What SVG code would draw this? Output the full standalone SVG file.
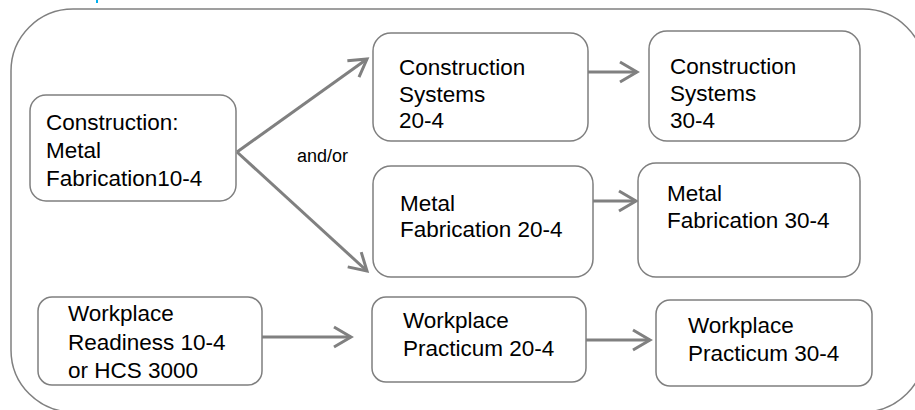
<svg xmlns="http://www.w3.org/2000/svg" width="915" height="410" viewBox="0 0 915 410">
  <defs>
    <style>
      .outer { fill: none; stroke: #808080; stroke-width: 1.5; }
      .node rect { fill: #ffffff; stroke: #7f7f7f; stroke-width: 1.5; }
      .node text { font-family: "Liberation Sans", Arial, sans-serif; font-size: 22.5px; fill: #000000; }
      .conn { fill: none; stroke: #808080; stroke-width: 3; }
      .lbl { font-family: "Liberation Sans", Arial, sans-serif; font-size: 18px; fill: #000000; }
    </style>
    <marker id="ah" viewBox="-20 -13 23 26" refX="0" refY="0" markerWidth="23" markerHeight="26" markerUnits="userSpaceOnUse" orient="auto">
      <path d="M-17,-10 L0,0 L-17,10" fill="none" stroke="#808080" stroke-width="3"/>
    </marker>
  </defs>

  <rect x="0" y="0" width="915" height="410" fill="#ffffff"/>
  <line x1="97" y1="0" x2="97" y2="3" stroke="#00B0F0" stroke-width="2"/>
  <rect class="outer" x="11" y="9" width="914" height="403" rx="62" ry="62"/>

  <g id="connectors">
    <line class="conn" x1="237" y1="152" x2="367" y2="59" marker-end="url(#ah)"/>
    <line class="conn" x1="237" y1="152" x2="367" y2="271" marker-end="url(#ah)"/>
    <line class="conn" x1="588" y1="72" x2="637" y2="72" marker-end="url(#ah)"/>
    <line class="conn" x1="593" y1="201" x2="636" y2="201" marker-end="url(#ah)"/>
    <line class="conn" x1="262" y1="337" x2="351" y2="337" marker-end="url(#ah)"/>
    <line class="conn" x1="586" y1="340" x2="650" y2="340" marker-end="url(#ah)"/>
    <text class="lbl" x="297" y="162">and/or</text>
  </g>

  <g id="node-cmf10" class="node">
    <rect x="30" y="95" width="206" height="106" rx="16" ry="16"/>
    <text x="46" y="130">Construction:</text>
    <text x="46" y="158">Metal</text>
    <text x="46" y="186">Fabrication10-4</text>
  </g>

  <g id="node-cs20" class="node">
    <rect x="373" y="33" width="215" height="108" rx="18" ry="18"/>
    <text x="399" y="75">Construction</text>
    <text x="399" y="102">Systems</text>
    <text x="399" y="128">20-4</text>
  </g>

  <g id="node-cs30" class="node">
    <rect x="649" y="31" width="211" height="110" rx="18" ry="18"/>
    <text x="670" y="74">Construction</text>
    <text x="670" y="101">Systems</text>
    <text x="670" y="128">30-4</text>
  </g>

  <g id="node-mf20" class="node">
    <rect x="373" y="166" width="220" height="111" rx="18" ry="18"/>
    <text x="400" y="211">Metal</text>
    <text x="400" y="237">Fabrication 20-4</text>
  </g>

  <g id="node-mf30" class="node">
    <rect x="638" y="163" width="222" height="114" rx="18" ry="18"/>
    <text x="667" y="201">Metal</text>
    <text x="667" y="228">Fabrication 30-4</text>
  </g>

  <g id="node-wr10" class="node">
    <rect x="38" y="297" width="224" height="88" rx="14" ry="14"/>
    <text x="68" y="321">Workplace</text>
    <text x="68" y="350">Readiness 10-4</text>
    <text x="68" y="378">or HCS 3000</text>
  </g>

  <g id="node-wp20" class="node">
    <rect x="372" y="297" width="214" height="85" rx="14" ry="14"/>
    <text x="403" y="328">Workplace</text>
    <text x="403" y="356">Practicum 20-4</text>
  </g>

  <g id="node-wp30" class="node">
    <rect x="656" y="300" width="216" height="86" rx="14" ry="14"/>
    <text x="688" y="333">Workplace</text>
    <text x="688" y="361">Practicum 30-4</text>
  </g>
</svg>
